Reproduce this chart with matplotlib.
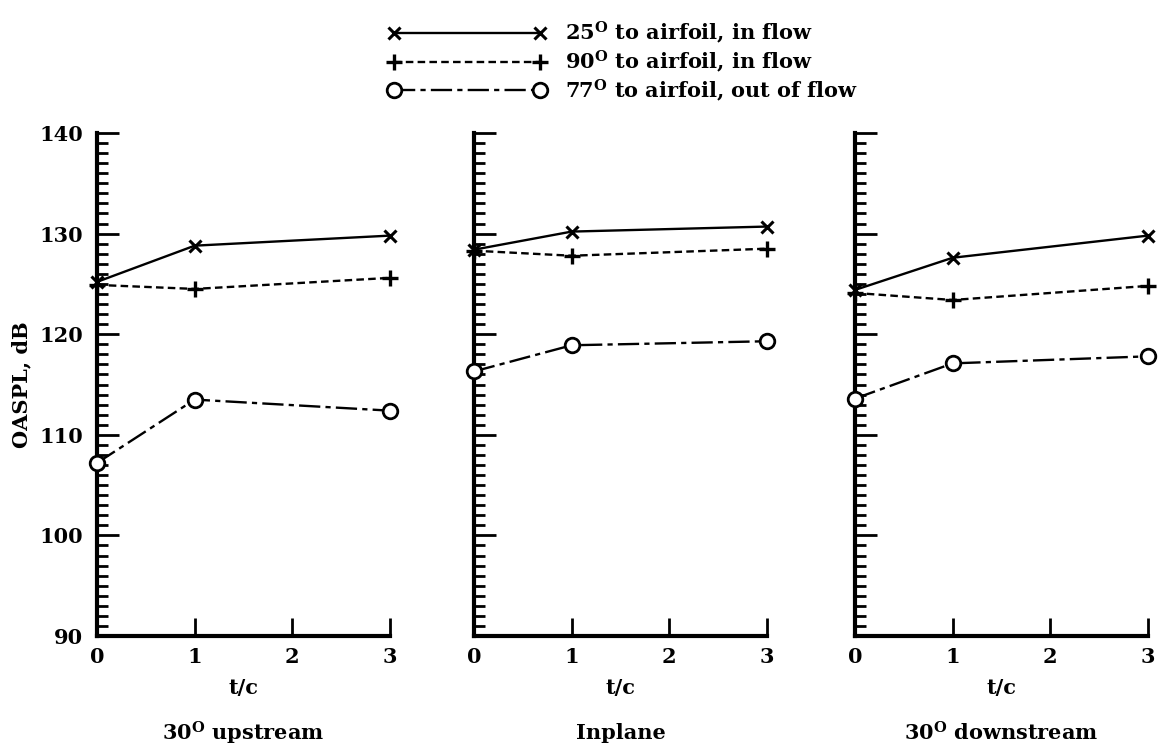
"""OASPL mot t/c för tre mikrofonpositioner (tre paneler)."""
import matplotlib
matplotlib.use("Agg")
import matplotlib.pyplot as plt
from matplotlib.lines import Line2D
from matplotlib.ticker import MultipleLocator

plt.rcParams["font.family"] = ["DejaVu Serif"]
plt.rcParams["font.weight"] = "bold"
plt.rcParams["mathtext.fontset"] = "dejavuserif"

# ---- data ----
TC = [0, 1, 3]
PANELS = ["30$^{\\mathbf{O}}$ upstream", "Inplane", "30$^{\\mathbf{O}}$ downstream"]
SERIES_LABELS = [
    "25$^{\\mathbf{O}}$ to airfoil, in flow",
    "90$^{\\mathbf{O}}$ to airfoil, in flow",
    "77$^{\\mathbf{O}}$ to airfoil, out of flow",
]
CROSS = [
    [125.2, 128.8, 129.8],
    [128.4, 130.2, 130.7],
    [124.4, 127.6, 129.8],
]
PLUS = [
    [124.9, 124.5, 125.6],
    [128.3, 127.8, 128.5],
    [124.1, 123.4, 124.8],
]
CIRCLE = [
    [107.2, 113.5, 112.4],
    [116.3, 118.9, 119.3],
    [113.6, 117.1, 117.8],
]

# ---- stilar ----
LW = 1.7
STYLES = [
    dict(marker="x", ms=8, mew=2.2, ls="-", mfc="none"),
    dict(marker="+", ms=12, mew=2.4, dashes=(3.2, 1.8), mfc="none"),
    dict(marker="o", ms=10.5, mew=2.0, dashes=(9, 2.2, 2.2, 2.2), mfc="white"),
]

W, H = 1158, 751
fig = plt.figure(figsize=(W / 100, H / 100), dpi=100)

lefts = [97, 474, 855]
ax_w = 293
y_bot, y_top = 636, 133

axes = []
for k, left in enumerate(lefts):
    ax = fig.add_axes([left / W, 1 - y_bot / H, ax_w / W, (y_bot - y_top) / H])
    for s, data in zip(STYLES, [CROSS[k], PLUS[k], CIRCLE[k]]):
        ax.plot(TC, data, color="black", lw=LW, mec="black", clip_on=False, zorder=3, **s)
    ax.set_xlim(0, 3)
    ax.set_ylim(90, 140)
    ax.spines["top"].set_visible(False)
    ax.spines["right"].set_visible(False)
    ax.spines["left"].set_linewidth(3)
    ax.spines["bottom"].set_linewidth(3)
    ax.set_xticks([0, 1, 2, 3])
    ax.yaxis.set_major_locator(MultipleLocator(10))
    ax.yaxis.set_minor_locator(MultipleLocator(1))
    ax.tick_params(axis="x", direction="in", length=13, width=2, pad=8, labelsize=15)
    ax.tick_params(axis="y", which="major", direction="in", length=16, width=2, pad=10, labelsize=15)
    ax.tick_params(axis="y", which="minor", direction="in", length=8, width=2)
    if k > 0:
        ax.tick_params(axis="y", labelleft=False)
    ax.set_xlabel("t/c", fontsize=15, fontweight="bold", labelpad=8)
    ax.text(0.5, -(733 - y_bot) / (y_bot - y_top), PANELS[k], transform=ax.transAxes,
            ha="center", va="center", fontsize=15, fontweight="bold")
    axes.append(ax)

axes[0].set_ylabel("OASPL, dB", fontsize=15, fontweight="bold", labelpad=6)

handles = [Line2D([], [], color="black", lw=LW, mec="black", **s) for s in STYLES]
fig.legend(handles, SERIES_LABELS, loc="upper left", bbox_to_anchor=(388 / W, 1 - 20 / H),
           frameon=False, numpoints=2, handlelength=7.6, handletextpad=0.9,
           labelspacing=0.1, borderpad=0, borderaxespad=0,
           prop=dict(size=15, weight="bold"))

fig.savefig("out.png", dpi=100)
